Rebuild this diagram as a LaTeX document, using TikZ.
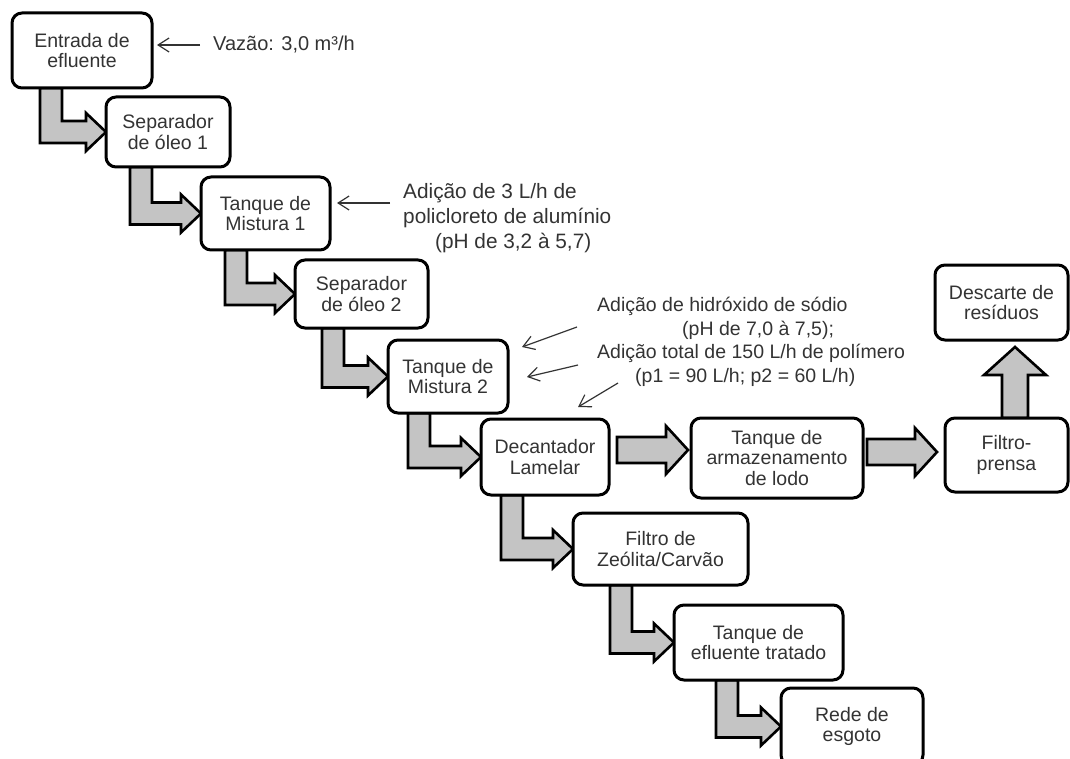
\documentclass[tikz,border=0pt]{standalone}
\usepackage{fontspec}
\setmainfont{Liberation Sans}
\usetikzlibrary{arrows.meta,calc}
\pgfdeclarelayer{bg}
\pgfsetlayers{bg,main}
\definecolor{txt}{HTML}{333333}
\definecolor{flowfill}{HTML}{C4C4C4}
\tikzset{
  box/.style={draw=black, line width=3pt, rounded corners=10pt, fill=white,
    align=center, text=txt, inner sep=0pt, outer sep=0pt,
    font=\fontsize{19.5}{20.5}\selectfont},
  flow/.style={draw=black, line width=2.6pt, fill=flowfill, line join=miter},
  note/.style={text=txt, align=left, inner sep=0pt, anchor=west},
  pointer/.style={draw=txt, line width=1.2pt, -{Straight Barb[length=11pt,width=14pt]}},
}
% L-shaped flow arrow: #1 source, #2 target, #3 x of the vertical shaft centre
\newcommand\lflow[3]{%
  \path[flow] let \p1=(#1.south), \p2=(#2.west) in
    ({#3pt-11pt},\y1) -- ({#3pt-11pt},\y2-11pt) -- (\x2-20pt,\y2-11pt)
    -- (\x2-20pt,\y2-19pt) -- (\x2,\y2) -- (\x2-20pt,\y2+19pt)
    -- (\x2-20pt,\y2+11pt) -- ({#3pt+11pt},\y2+11pt) -- ({#3pt+11pt},\y1) -- cycle;
}
% straight horizontal flow arrow: #1 source, #2 target, #3 gap at start, #4 gap at tip, #5 shift up
\newcommand\hflow[5]{%
  \path[flow] let \p1=(#1.east), \p2=(#2.west) in
    (\x1+#3pt,\y2+#5pt+13pt) -- (\x2-#4pt-22pt,\y2+#5pt+13pt) -- (\x2-#4pt-22pt,\y2+#5pt+24pt)
    -- (\x2-#4pt,\y2+#5pt) -- (\x2-#4pt-22pt,\y2+#5pt-24pt) -- (\x2-#4pt-22pt,\y2+#5pt-13pt)
    -- (\x1+#3pt,\y2+#5pt-13pt) -- cycle;
}
\begin{document}
\begin{tikzpicture}[x=1pt,y=-1pt]
\useasboundingbox (0,0) rectangle (1070,759);
\clip (0,0) rectangle (1070,759);

% boxes
\node[box, minimum width=140pt, minimum height=75pt] (b1) at (82,50.5) {Entrada de\\efluente};
\node[box, minimum width=124pt, minimum height=70pt] (b2) at (168,132) {Separador\\de óleo 1};
\node[box, minimum width=129pt, minimum height=73pt] (b3) at (265.5,213.5) {Tanque de\\Mistura 1};
\node[box, minimum width=133pt, minimum height=68pt] (b4) at (361.5,294) {Separador\\de óleo 2};
\node[box, minimum width=120pt, minimum height=73pt] (b5) at (448,376.5) {Tanque de\\Mistura 2};
\node[box, minimum width=128pt, minimum height=76pt] (b6) at (545,457) {Decantador\\Lamelar};
\node[box, minimum width=172pt, minimum height=80pt] (b7) at (777,458) {Tanque de\\armazenamento\\de lodo};
\node[box, minimum width=123pt, minimum height=74pt] (b8) at (1006.5,455) {Filtro-\\prensa};
\node[box, minimum width=133pt, minimum height=75pt] (b9) at (1001.5,302.5) {Descarte de\\resíduos};
\node[box, minimum width=175pt, minimum height=72pt] (b10) at (660.5,549) {Filtro de\\Zeólita/Carvão};
\node[box, minimum width=169pt, minimum height=75pt] (b11) at (758.5,642.5) {Tanque de\\efluente tratado};
\node[box, minimum width=142pt, minimum height=77pt] (b12) at (852,726.5) {Rede de\\esgoto};

% annotations
\node[note, font=\fontsize{20}{24}\selectfont] (t1) at (213,45) {Vazão: 3,0 m³/h};
\node[note, font=\fontsize{20.8}{24.8}\selectfont] (t2) at (403,218)
  {Adição de 3 L/h de\\policloreto de alumínio\\\hspace*{32pt}(pH de 3,2 à 5,7)};
\node[note, font=\fontsize{19.5}{23.5}\selectfont] (t3) at (597,342)
  {Adição de hidróxido de sódio\\\hspace*{85pt}(pH de 7,0 à 7,5);\\Adição total de 150 L/h de polímero\\\hspace*{38pt}(p1 = 90 L/h; p2 = 60 L/h)};

% pointer start points
\coordinate (p1s) at (200,45);
\coordinate (p2s) at (390,203);
\coordinate (p3a) at (577,327);
\coordinate (p3b) at (578,365);
\coordinate (p3c) at (618,383);

\draw[pointer] (p1s) -- ($(p1s -| b1.east)+(5,0)$);
\draw[pointer] (p2s) -- ($(p2s -| b3.east)+(7,0)$);
\draw[pointer] (p3a) -- ($(b5.north east)+(14,7)$);
\draw[pointer] (p3b) -- ($(b5.east)+(19,0.5)$);
\draw[pointer] (p3c) -- ($(b6.north)+(33,-12)$);

% flow arrows
\begin{pgfonlayer}{bg}
\lflow{b1}{b2}{51}
\lflow{b2}{b3}{141}
\lflow{b3}{b4}{236}
\lflow{b4}{b5}{333}
\lflow{b5}{b6}{419}
\lflow{b6}{b10}{512}
\lflow{b10}{b11}{621}
\lflow{b11}{b12}{727}
\hflow{b6}{b7}{8}{3}{8}
\hflow{b7}{b8}{4}{8}{3}
\path[flow] let \p1=(b8.north), \p2=(b9.south) in
  (\x1+8.5pt-13pt,\y1) -- (\x1+8.5pt-13pt,\y2-35pt) -- (\x1+8.5pt-31pt,\y2-35pt)
  -- (\x1+8.5pt,\y2-7pt) -- (\x1+8.5pt+31pt,\y2-35pt) -- (\x1+8.5pt+13pt,\y2-35pt)
  -- (\x1+8.5pt+13pt,\y1) -- cycle;
\end{pgfonlayer}
\end{tikzpicture}
\end{document}
